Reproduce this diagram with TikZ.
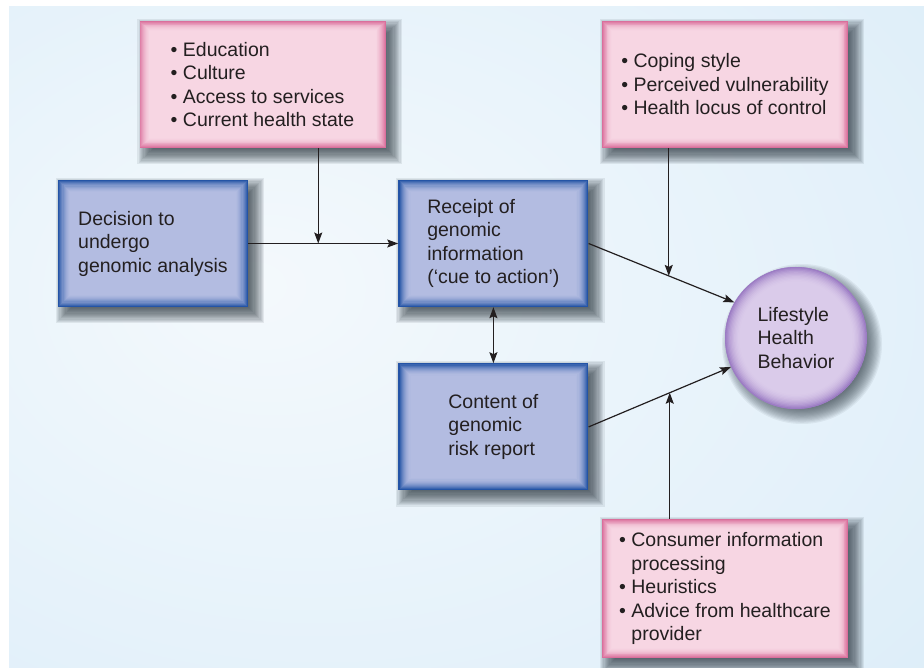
\documentclass[tikz,border=0pt]{standalone}
\usepackage{fontspec}
\setmainfont{Liberation Sans}
\usetikzlibrary{arrows.meta, positioning, calc}

\definecolor{bgblue}{HTML}{D4E9F6}
\definecolor{bgmid}{HTML}{E4F1FA}
\definecolor{bglight}{HTML}{F4F9FC}
\definecolor{pinkfill}{HTML}{F7D6E3}
\definecolor{pinkedge}{HTML}{DA6F9C}
\definecolor{bluefill}{HTML}{B3BCE1}
\definecolor{blueedge}{HTML}{2454A6}
\definecolor{purplefill}{HTML}{DACBEA}
\definecolor{purpleedge}{HTML}{9C7CC4}
\definecolor{inkgray}{HTML}{231F20}
\definecolor{shadowgray}{HTML}{2E3A44}

\pgfdeclareradialshading{backdrop}{\pgfpoint{-12bp}{4bp}}{color(0bp)=(bglight); color(30bp)=(bgmid); color(58bp)=(bgblue); color(80bp)=(bgblue)}

\pgfdeclarelayer{back}
\pgfdeclarelayer{shadow}
\pgfsetlayers{back,shadow,main}

\newcommand{\boxfont}{\fontsize{19.5pt}{23.5pt}\selectfont}
\newcommand{\bulitem}{\textbullet\ }
\newcommand{\bulrest}{\phantom{\textbullet\ }}

% soft inner edge of the boxes
\newcommand{\glowrect}[3]{%
  \foreach \k in {0,...,12}{
    \pgfmathtruncatemacro\p{100*(1-\k/12)^2}
    \fill[#1!\p!#2] ([shift={(\k*#3,-\k*#3)}]path picture bounding box.north west)
      rectangle ([shift={(-\k*#3,\k*#3)}]path picture bounding box.south east);
  }}
\newcommand{\glowdisc}[3]{%
  \foreach \k in {0,...,12}{
    \pgfmathtruncatemacro\p{100*(1-\k/12)^2}
    \fill[#1!\p!#2] (path picture bounding box.center) circle[radius=71pt-\k*#3];
  }}
% soft shadow behind a box
\newcommand{\boxshadow}[1]{%
  \foreach \k in {0,...,15}{
    \fill[shadowgray, opacity=0.09]
      ([shift={(7pt-9pt+\k*1.2pt,-7pt+9pt-\k*1.2pt)}]#1.north west)
      rectangle ([shift={(7pt+9pt-\k*1.2pt,-7pt-9pt+\k*1.2pt)}]#1.south east);
  }}

\tikzstyle{pinkbox} = [rectangle, minimum width=246pt, minimum height=127pt, align=left, text=inkgray, font=\boxfont, fill=pinkedge, path picture={\glowrect{pinkedge}{pinkfill}{0.9pt}}]
\tikzstyle{bluebox} = [rectangle, minimum width=190pt, minimum height=127pt, align=left, text=inkgray, font=\boxfont, fill=blueedge, path picture={\glowrect{blueedge}{bluefill}{1.1pt}}]
\tikzstyle{goalcircle} = [circle, minimum size=142pt, inner sep=0pt, align=left, text=inkgray, font=\boxfont, fill=purpleedge, path picture={\glowdisc{purpleedge}{purplefill}{1.3pt}}]
\tikzstyle{arrow} = [line width=1.2pt, draw=inkgray, -{Stealth[length=11pt,width=8pt,inset=2pt]}]
\tikzstyle{dblarrow} = [line width=1.2pt, draw=inkgray, {Stealth[length=11pt,width=8pt,inset=2pt]}-{Stealth[length=11pt,width=8pt,inset=2pt]}]

\begin{document}
\begin{tikzpicture}[x=1pt, y=-1pt, node distance=56pt]
\useasboundingbox (0,0) rectangle (924,668);

\node (decision) [bluebox] at (153,243.5) {Decision to\\undergo\\genomic analysis};
\node (receipt) [bluebox, right=150pt of decision] {Receipt of\\genomic\\information\\(‘cue to action’)};
\node (content) [bluebox, below=of receipt] {Content of\\genomic\\risk report};

\node (educ) [pinkbox] at (262.5,84.5) {\bulitem Education\\\bulitem Culture\\\bulitem Access to services\\\bulitem Current health state};
\node (coping) [pinkbox] at (725,84.5) {\bulitem Coping style\\\bulitem Perceived vulnerability\\\bulitem Health locus of control};

\node (behav) [goalcircle] at (796,338) {Lifestyle\\Health\\Behavior};

\node (advice) [pinkbox, minimum height=139pt] at (725,588.5) {\bulitem Consumer information\\\bulrest processing\\\bulitem Heuristics\\\bulitem Advice from healthcare\\\bulrest provider};

\begin{pgfonlayer}{back}
\shade[shading=backdrop] (9,7) rectangle (924,668);
\end{pgfonlayer}
\begin{pgfonlayer}{shadow}
\foreach \n in {decision,receipt,content,educ,coping,advice}{\boxshadow{\n}}
\foreach \k in {0,...,15}{
  \fill[shadowgray, opacity=0.07] ([shift={(6pt,-6pt)}]behav.center) circle[radius=80pt-\k*1.2pt];
}
\end{pgfonlayer}

\coordinate (j1) at ($(decision.east)!0.467!(receipt.west)$);
\coordinate (j2) at ($(receipt.east)!0.55!(behav.150)$);
\coordinate (j3) at ($(content.east)!0.57!(behav.204)$);

\draw [arrow] (decision) -- (receipt);
\draw [arrow] (educ.south -| j1) -- (j1);
\draw [arrow] (receipt.east) -- (behav.150);
\draw [arrow] (coping.south -| j2) -- (j2);
\draw [arrow] (content.east) -- (behav.204);
\draw [arrow] (advice.north -| j3) -- (j3);
\draw [dblarrow] (receipt) -- (content);
\end{tikzpicture}
\end{document}
